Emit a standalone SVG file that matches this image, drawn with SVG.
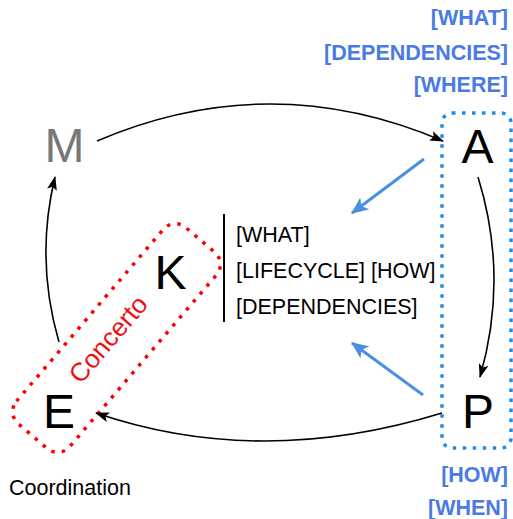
<svg xmlns="http://www.w3.org/2000/svg" width="513" height="519" viewBox="0 0 513 519">
  <style>
    .big { font-family: "Liberation Sans", Arial, sans-serif; font-size: 48px; text-anchor: middle; fill: #000; }
    .tag { font-family: "Liberation Sans", Arial, sans-serif; font-size: 21.5px; fill: #000; }
    .btag { font-family: "Liberation Sans", Arial, sans-serif; font-size: 21.5px; font-weight: bold; fill: #4a7be2; text-anchor: end; }
    .flow { fill: none; stroke: #000; stroke-width: 1.6; marker-end: url(#arrowBlack); }
    .info { fill: none; stroke: #4a90e2; stroke-width: 3; marker-end: url(#arrowBlue); }
  </style>
  <defs>
    <marker id="arrowBlack" viewBox="0 0 14 10" refX="13" refY="5" markerWidth="14" markerHeight="10" markerUnits="userSpaceOnUse" orient="auto">
      <path d="M0,0 L14,5 L0,10 L3,5 Z" fill="#000"/>
    </marker>
    <marker id="arrowBlue" viewBox="0 0 16 14" refX="15" refY="7" markerWidth="17" markerHeight="15" markerUnits="userSpaceOnUse" orient="auto">
      <path d="M0,0 L16,7 L0,14 L4,7 Z" fill="#4a90e2"/>
    </marker>
  </defs>

  <!-- groupings -->
  <rect id="concerto-box" x="-129" y="-35" width="258" height="70" rx="16" fill="none" stroke="#ff0000" stroke-width="3.5" stroke-dasharray="3.5 7" transform="translate(116.5,338) rotate(-49.5)"/>
  <rect id="ap-box" x="442" y="113" width="69" height="335" rx="10" fill="none" stroke="#1a8cf0" stroke-width="3.5" stroke-dasharray="3.5 6.5"/>

  <!-- connectors -->
  <g id="connectors">
    <path class="flow" d="M97,141 Q270,67 443,141"/>
    <path class="flow" d="M478,177 Q509,277 480,377"/>
    <path class="flow" d="M442,413 Q260,469 96,413"/>
    <path class="flow" d="M59,342 Q35,260 55,177"/>
    <path class="info" d="M424,159 L352,213"/>
    <path class="info" d="M423,395 L352,343"/>
  </g>

  <g id="node-M"><text class="big" x="64.5" y="162" style="fill:#777777">M</text></g>
  <g id="node-A"><text class="big" x="477.5" y="163">A</text></g>
  <g id="node-P"><text class="big" x="478" y="428">P</text></g>
  <g id="node-E"><text class="big" x="59" y="428">E</text></g>
  <g id="node-K"><text class="big" x="170.5" y="289">K</text></g>

  <g id="knowledge-tags">
    <line x1="224" y1="214" x2="224" y2="322" stroke="#000" stroke-width="2"/>
    <text class="tag" x="236" y="242">[WHAT]</text>
    <text class="tag" x="236" y="278">[LIFECYCLE] [HOW]</text>
    <text class="tag" x="236" y="314">[DEPENDENCIES]</text>
  </g>

  <g id="analyze-tags">
    <text class="btag" x="508" y="25">[WHAT]</text>
    <text class="btag" x="508" y="60">[DEPENDENCIES]</text>
    <text class="btag" x="508" y="92">[WHERE]</text>
  </g>

  <g id="plan-tags">
    <text class="btag" x="508" y="482">[HOW]</text>
    <text class="btag" x="508" y="515">[WHEN]</text>
  </g>

  <text id="concerto-label" x="115" y="345" font-family="'Liberation Sans', Arial, sans-serif" font-size="26" fill="#ee1111" text-anchor="middle" transform="rotate(-49.5 115 345)">Concerto</text>

  <text id="caption" x="9" y="495" font-family="'Liberation Sans', Arial, sans-serif" font-size="21.5" fill="#000">Coordination</text>
</svg>
